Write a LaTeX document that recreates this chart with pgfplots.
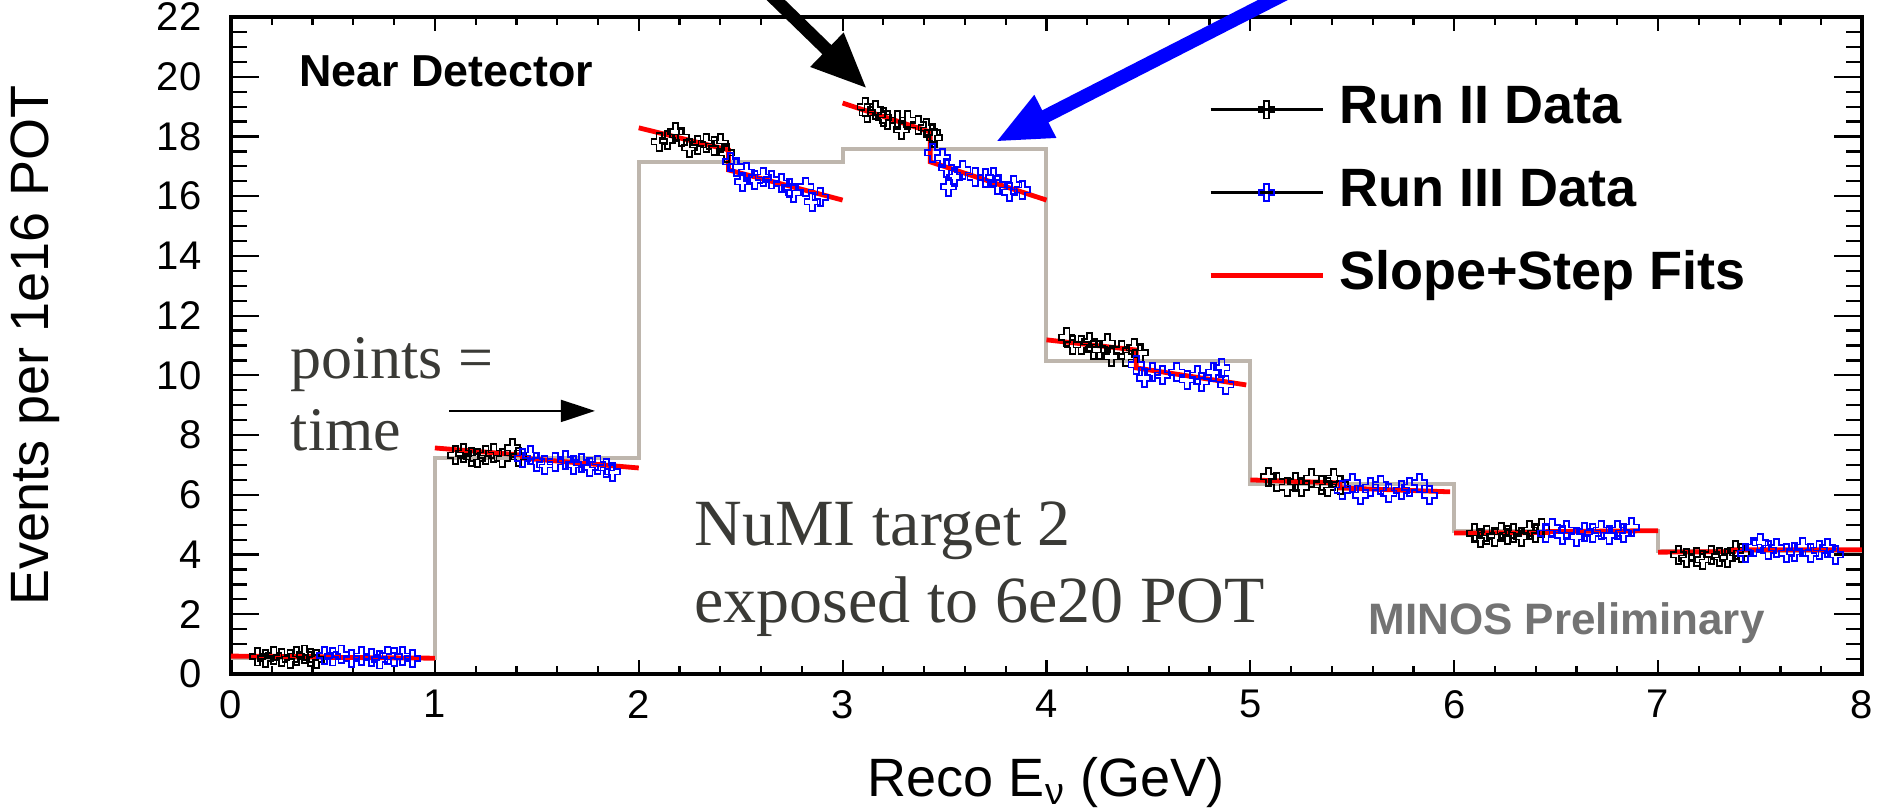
\documentclass[border=0pt]{standalone}
\usepackage{fontspec}
\setmainfont{Liberation Sans}
\newfontfamily\annserif{Liberation Serif}
\usepackage{pgfplots}
\usepackage{pgfplotstable}
\pgfplotsset{compat=1.18}
\usetikzlibrary{arrows.meta}

\definecolor{histgrey}{RGB}{190,182,173}
\definecolor{anntext}{RGB}{58,58,54}
\definecolor{prelim}{RGB}{115,115,115}

% open cross marker, like the ROOT one
\pgfdeclareplotmark{ocross}{%
  \pgfpathmoveto{\pgfqpoint{-0.65pt}{-2.2pt}}%
  \pgfpathlineto{\pgfqpoint{0.65pt}{-2.2pt}}%
  \pgfpathlineto{\pgfqpoint{0.65pt}{-0.65pt}}%
  \pgfpathlineto{\pgfqpoint{1.9pt}{-0.65pt}}%
  \pgfpathlineto{\pgfqpoint{1.9pt}{0.65pt}}%
  \pgfpathlineto{\pgfqpoint{0.65pt}{0.65pt}}%
  \pgfpathlineto{\pgfqpoint{0.65pt}{2.2pt}}%
  \pgfpathlineto{\pgfqpoint{-0.65pt}{2.2pt}}%
  \pgfpathlineto{\pgfqpoint{-0.65pt}{0.65pt}}%
  \pgfpathlineto{\pgfqpoint{-1.9pt}{0.65pt}}%
  \pgfpathlineto{\pgfqpoint{-1.9pt}{-0.65pt}}%
  \pgfpathlineto{\pgfqpoint{-0.65pt}{-0.65pt}}%
  \pgfpathclose
  \pgfusepathqstroke}

% Run II points (black)
\pgfplotstableread{
x y
0.13 0.58
0.17 0.52
0.21 0.62
0.25 0.55
0.29 0.50
0.32 0.60
0.36 0.66
0.39 0.55
0.42 0.50
1.10 7.33
1.14 7.40
1.18 7.27
1.21 7.23
1.25 7.33
1.29 7.40
1.33 7.23
1.38 7.57
1.41 7.27
2.10 17.82
2.14 17.88
2.18 18.15
2.21 17.98
2.25 17.62
2.29 17.72
2.33 17.78
2.37 17.68
2.40 17.78
2.43 17.45
3.11 18.99
3.12 18.79
3.16 18.89
3.20 18.65
3.22 18.55
3.27 18.55
3.29 18.22
3.32 18.55
3.37 18.39
3.41 18.29
3.44 18.12
3.45 17.95
4.10 11.28
4.13 11.02
4.17 11.02
4.21 11.12
4.23 10.85
4.26 10.85
4.30 11.08
4.32 10.62
4.37 10.85
4.39 10.62
4.43 10.92
4.46 10.75
5.09 6.60
5.13 6.43
5.18 6.26
5.22 6.43
5.25 6.26
5.30 6.56
5.35 6.33
5.38 6.26
5.41 6.56
5.44 6.33
6.10 4.72
6.13 4.55
6.16 4.65
6.20 4.59
6.23 4.76
6.26 4.65
6.29 4.72
6.33 4.59
6.37 4.82
6.40 4.72
6.43 4.89
7.10 3.99
7.14 3.88
7.19 3.92
7.22 3.82
7.26 3.99
7.30 3.92
7.34 3.88
7.38 4.15
7.41 4.05
}\runtwo

% Run III points (blue)
\pgfplotstableread{
x y
0.46 0.62
0.50 0.58
0.54 0.66
0.59 0.52
0.64 0.60
0.69 0.55
0.73 0.48
0.77 0.62
0.80 0.57
0.84 0.60
0.89 0.52
1.43 7.23
1.47 7.33
1.50 7.10
1.54 7.00
1.59 7.10
1.64 7.17
1.68 7.00
1.72 7.07
1.76 6.93
1.80 7.00
1.84 6.90
1.87 6.77
2.45 17.15
2.48 16.98
2.51 16.48
2.53 16.81
2.57 16.54
2.61 16.64
2.65 16.55
2.70 16.44
2.74 16.28
2.76 16.11
2.82 16.31
2.85 15.81
2.89 15.97
3.44 17.45
3.49 17.28
3.51 16.95
3.52 16.31
3.55 16.64
3.59 16.88
3.65 16.64
3.70 16.61
3.74 16.64
3.76 16.38
3.82 16.14
3.84 16.38
3.88 16.21
4.44 10.35
4.48 9.91
4.52 10.11
4.57 10.01
4.64 10.11
4.69 9.85
4.74 10.01
4.76 9.78
4.82 10.11
4.86 10.25
4.88 9.68
5.45 6.16
5.50 6.40
5.54 5.99
5.59 6.26
5.64 6.33
5.68 6.06
5.74 6.16
5.78 6.26
5.83 6.40
5.88 5.99
6.45 4.72
6.48 4.89
6.53 4.65
6.55 4.82
6.60 4.59
6.64 4.76
6.68 4.72
6.72 4.82
6.76 4.65
6.80 4.82
6.83 4.72
6.87 4.92
7.43 4.05
7.47 4.25
7.50 4.39
7.54 4.15
7.58 4.22
7.63 4.05
7.67 4.09
7.71 4.25
7.75 4.05
7.79 4.15
7.83 4.22
7.87 3.99
}\runthree

% slope+step fits, one piece per energy bin
\pgfplotstableread{
x y
0.00 0.60
0.45 0.58
0.45 0.56
1.00 0.53
nan nan
1.00 7.57
1.43 7.33
1.43 7.23
2.00 6.90
nan nan
2.00 18.29
2.44 17.55
2.44 16.88
3.00 15.87
nan nan
3.00 19.12
3.43 18.15
3.43 17.15
4.00 15.87
nan nan
4.00 11.19
4.44 10.85
4.44 10.25
4.98 9.68
nan nan
5.00 6.50
5.44 6.40
5.44 6.23
5.98 6.10
nan nan
6.00 4.72
6.46 4.74
6.46 4.77
7.00 4.80
nan nan
7.00 4.08
7.37 4.10
7.37 4.16
8.00 4.16
}\fits

% grey histogram (bin contents)
\pgfplotstableread{
x y
0 0.55
1 7.23
2 17.15
3 17.58
4 10.48
5 6.36
6 4.79
7 4.12
8 4.12
}\hist

\begin{document}
\begin{tikzpicture}
\begin{axis}[
  scale only axis,
  width=407.75pt, height=164.25pt,
  xmin=0, xmax=8, ymin=0, ymax=22,
  xtick={0,...,8}, ytick={0,2,...,22},
  minor x tick num=4, minor y tick num=3,
  tick align=inside,
  major tick length=7pt, minor tick length=4pt,
  xtick style={/pgfplots/major tick length=3.5pt,/pgfplots/minor tick length=2pt},
  tick style={black, line width=0.55pt},
  axis line style={line width=1pt},
  /pgf/number format/assume math mode=true,
  ticklabel style={font=\fontsize{10}{12}\selectfont},
  yticklabel style={xshift=-3.9pt},
  xticklabel style={yshift=-0.5pt},
  xlabel={Reco E\textsubscript{ν} (GeV)},
  ylabel={Events per 1e16 POT},
  xlabel style={font=\fontsize{13.5}{16}\selectfont, at={(rel axis cs:0.5,-0.1857)}, anchor=base},
  ylabel style={font=\fontsize{13.5}{16}\selectfont, at={(rel axis cs:-0.1202,0.5)}, anchor=center},
  unbounded coords=jump,
  clip=false,
  legend cell align=left,
  legend style={draw=none, fill=none, inner sep=0pt,
    at={(axis cs:4.79,20.06)}, anchor=north west,
    font=\bfseries\fontsize{13.5}{16}\selectfont,
    nodes={inner sep=2pt, text height=10pt, text depth=3pt},
    row sep=3.7pt, column sep=1.5pt},
]
\addplot[const plot, histgrey, line width=1pt, forget plot] table[x=x,y=y] {\hist};

\addplot[only marks, mark=ocross, black, mark options={line width=0.45pt},
  legend image code/.code={
    \draw[black, line width=0.7pt] (0pt,0pt) -- (28pt,0pt);
    \draw[black, line width=0.6pt, mark=ocross, only marks] plot coordinates {(14pt,0pt)};
  }] table[x=x,y=y] {\runtwo};
\addlegendentry{Run II Data}

\addplot[only marks, mark=ocross, blue, mark options={line width=0.45pt},
  legend image code/.code={
    \draw[black, line width=0.7pt] (0pt,0pt) -- (28pt,0pt);
    \draw[blue, line width=0.6pt, mark=ocross, only marks] plot coordinates {(14pt,0pt)};
  }] table[x=x,y=y] {\runthree};
\addlegendentry{Run III Data}

\addplot[red, line width=1.2pt, no marks,
  legend image code/.code={\draw[red, line width=1.2pt] (0pt,0pt) -- (28pt,0pt);}]
  table[x=x,y=y] {\fits};
\addlegendentry{Slope+Step Fits}

% labels inside the frame
\node[anchor=base west, font=\bfseries\fontsize{11.2}{13}\selectfont]
  at (axis cs:0.265,19.66) {Near Detector};
\node[anchor=base west, font=\bfseries\fontsize{11}{13}\selectfont, text=prelim]
  at (axis cs:5.51,1.31) {MINOS Preliminary};

% added notes
\node[anchor=base west, font=\annserif\fontsize{16.5}{19}\selectfont, text=anntext, inner sep=0pt]
  at (axis cs:2.27,4.29) {NuMI target 2};
\node[anchor=base west, font=\annserif\fontsize{16.5}{19}\selectfont, text=anntext, inner sep=0pt]
  at (axis cs:2.27,1.74) {exposed to 6e20 POT};
\node[anchor=base west, font=\annserif\fontsize{15.5}{18}\selectfont, text=anntext, inner sep=0pt]
  at (axis cs:0.29,9.91) {points =};
\node[anchor=base west, font=\annserif\fontsize{15.5}{18}\selectfont, text=anntext, inner sep=0pt]
  at (axis cs:0.29,7.50) {time};
\draw[line width=0.5pt, -{Triangle[length=8.5pt,width=5.5pt]}]
  (axis cs:1.07,8.81) -- (axis cs:1.785,8.81);
\draw[line width=3.2pt, -{Triangle[length=14pt,width=11pt]}]
  (axis cs:2.52,23.58) -- (axis cs:3.12,19.6);
\draw[blue, line width=3.4pt, -{Triangle[length=14pt,width=11pt]}]
  (axis cs:5.40,23.58) -- (axis cs:3.75,17.82);
\end{axis}
\pgfresetboundingbox
\useasboundingbox (-57.75pt,-33.5pt) rectangle (414pt,168.5pt);
\end{tikzpicture}
\end{document}
